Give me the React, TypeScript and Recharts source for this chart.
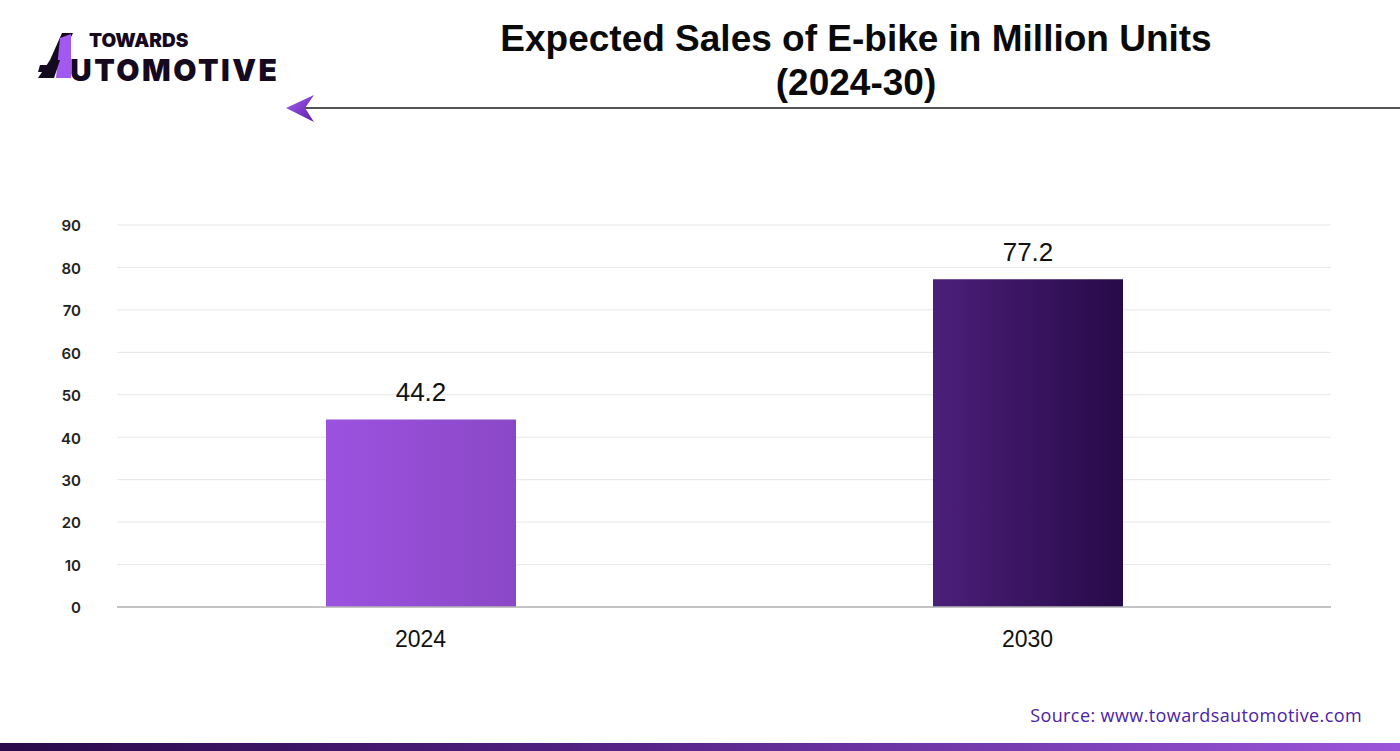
import { BarChart, Bar, XAxis, YAxis, CartesianGrid, LabelList, Cell } from 'recharts';

const years = ['2024', '2030'];
const sales = [44.2, 77.2];
const yTicks = [0, 10, 20, 30, 40, 50, 60, 70, 80, 90];
const barFills = ['url(#gradLight)', 'url(#gradDark)'];

const data = years.map((year, i) => ({ year, sales: sales[i] }));

const Logo = () => (
  <svg width={300} height={100} style={{ position: 'absolute', left: 0, top: 0 }}>
    <polygon points="62,33 73,33 60,60 50,60" fill="#15091f" />
    <polygon points="60,38 71,34 71,78 56,78" fill="#a259f0" />
    <polygon points="38,78 50,60 60,60 54,78" fill="#15091f" />
    <polygon points="40,65 56,65 54,72 38,72" fill="#15091f" />
    <text fontFamily="Inter, 'Noto Sans', sans-serif" fontWeight={900} fill="#15091f">
      <tspan x={89} y={46.5} fontSize={19}>
        TOWARDS
      </tspan>
      <tspan x={70} y={80.5} fontSize={30} letterSpacing={2.5}>
        UTOMOTIVE
      </tspan>
    </text>
  </svg>
);

export default function App() {
  return (
    <div style={{ position: 'absolute', left: 0, top: 0, width: 1400, height: 751, background: '#fff', overflow: 'hidden' }}>
      <Logo />
      <div
        style={{
          position: 'absolute',
          left: 456,
          top: 17,
          width: 800,
          textAlign: 'center',
          fontFamily: "'Liberation Sans', Arial, sans-serif",
          fontWeight: 700,
          fontSize: 37,
          lineHeight: '44px',
          color: '#0a0a0a',
        }}
      >
        Expected Sales of E-bike in Million Units
        <br />
        (2024-30)
      </div>
      <svg width={1400} height={140} style={{ position: 'absolute', left: 0, top: 0 }}>
        <defs>
          <linearGradient id="arrowGrad" x1="0" y1="0" x2="1" y2="1">
            <stop offset="0%" stopColor="#a65ff0" />
            <stop offset="100%" stopColor="#5c1fa6" />
          </linearGradient>
        </defs>
        <line x1={304} y1={108} x2={1400} y2={108} stroke="#1a1a1a" strokeWidth={1.5} />
        <polygon points="286,108 314,95 305,108 314,122" fill="url(#arrowGrad)" />
      </svg>
      <div style={{ position: 'absolute', left: 0, top: 0 }}>
        <BarChart width={1400} height={751} data={data} margin={{ top: 225, right: 69, left: 57, bottom: 114 }}>
          <defs>
            <linearGradient id="gradLight" x1="0" y1="0" x2="1" y2="0">
              <stop offset="0%" stopColor="#9c52e0" />
              <stop offset="100%" stopColor="#8a48c6" />
            </linearGradient>
            <linearGradient id="gradDark" x1="0" y1="0" x2="1" y2="0">
              <stop offset="0%" stopColor="#4c1f7a" />
              <stop offset="100%" stopColor="#270a48" />
            </linearGradient>
          </defs>
          <CartesianGrid vertical={false} stroke="#e6e6e6" />
          <XAxis
            dataKey="year"
            height={30}
            axisLine={{ stroke: '#b5b5b5', strokeWidth: 1.5 }}
            tickLine={false}
            tickSize={0}
            tickMargin={24}
            tick={{ fontSize: 23, fill: '#111', fontFamily: "'Liberation Sans', Arial, sans-serif" }}
          />
          <YAxis
            width={60}
            domain={[0, 90]}
            ticks={yTicks}
            interval={0}
            axisLine={false}
            tickLine={false}
            tickSize={0}
            tickMargin={36}
            tick={{ fontSize: 15, fill: '#222', fontWeight: 600, fontFamily: "Inter, 'Liberation Sans', sans-serif", dy: 1 }}
          />
          <Bar dataKey="sales" barSize={190} isAnimationActive={false}>
            {data.map((d, i) => (
              <Cell key={d.year} fill={barFills[i]} />
            ))}
            <LabelList
              dataKey="sales"
              position="top"
              offset={18}
              style={{ fontSize: 26, fill: '#111', fontFamily: "'Liberation Sans', Arial, sans-serif" }}
            />
          </Bar>
        </BarChart>
      </div>
      <div
        style={{
          position: 'absolute',
          right: 38,
          top: 703,
          fontFamily: "'Open Sans', sans-serif",
          fontSize: 18,
          fontWeight: 500,
          letterSpacing: 0.4,
          color: '#4b22a8',
        }}
      >
        Source: www.towardsautomotive.com
      </div>
      <div
        style={{
          position: 'absolute',
          left: 0,
          top: 743,
          width: 1400,
          height: 8,
          background: 'linear-gradient(to right, #2a0a4a, #4f1f80 40%, #9b55da)',
        }}
      />
    </div>
  );
}
